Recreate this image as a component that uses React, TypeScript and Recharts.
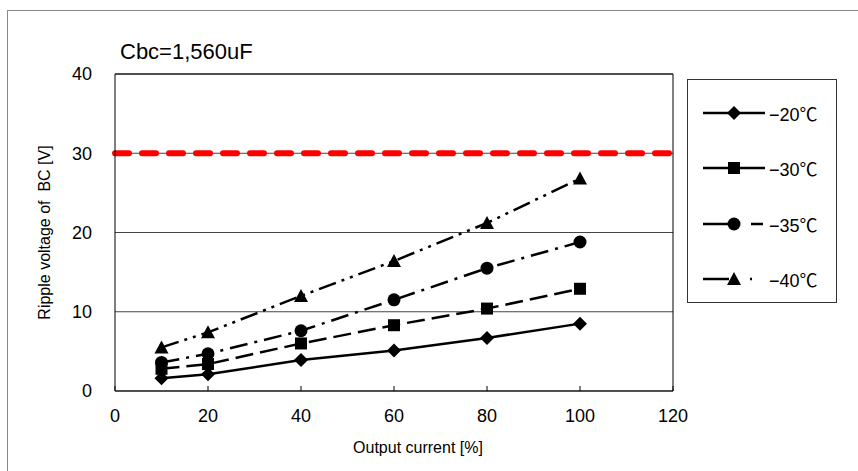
import React from "react"
import { LineChart, Line, XAxis, YAxis, CartesianGrid, ReferenceLine } from "recharts"

// output current [%]
const currents = [10, 20, 40, 60, 80, 100]
// ripple voltage [V] per temperature
const minus20 = [1.6, 2.1, 3.9, 5.1, 6.7, 8.5]
const minus30 = [2.8, 3.4, 6.0, 8.3, 10.4, 12.9]
const minus35 = [3.6, 4.7, 7.6, 11.5, 15.5, 18.8]
const minus40 = [5.5, 7.4, 12.0, 16.4, 21.2, 26.8]

const xTicks = [0, 20, 40, 60, 80, 100, 120]
const yTicks = [0, 10, 20, 30, 40]
const limitVoltage = 30
const seriesNames = ["−20℃", "−30℃", "−35℃", "−40℃"]

const data = currents.map((x, i) => ({
  x,
  m20: minus20[i],
  m30: minus30[i],
  m35: minus35[i],
  m40: minus40[i],
}))

type Shape = "diamond" | "square" | "circle" | "triangle"

function Marker({ shape, cx, cy }: { shape: Shape; cx: number; cy: number }) {
  if (shape === "diamond")
    return <path d={`M${cx},${cy - 7} L${cx + 7},${cy} L${cx},${cy + 7} L${cx - 7},${cy} Z`} fill="#000" />
  if (shape === "square") return <rect x={cx - 6} y={cy - 6} width={12} height={12} fill="#000" />
  if (shape === "circle") return <circle cx={cx} cy={cy} r={6.5} fill="#000" />
  return <path d={`M${cx},${cy - 7} L${cx + 7},${cy + 6} L${cx - 7},${cy + 6} Z`} fill="#000" />
}

const makeDot = (shape: Shape) => (props: any) => (
  <g key={`${shape}-${props.index}`}>
    <Marker shape={shape} cx={props.cx} cy={props.cy} />
  </g>
)

const series = [
  { key: "m20", shape: "diamond" as Shape, dash: undefined, legendDash: undefined },
  { key: "m30", shape: "square" as Shape, dash: "18 7", legendDash: undefined },
  { key: "m35", shape: "circle" as Shape, dash: "18 7 3 7", legendDash: "30 18 12" },
  { key: "m40", shape: "triangle" as Shape, dash: "18 6 3 6 3 6", legendDash: "26 21 2 20" },
]

export default function App() {
  return (
    <div
      style={{
        position: "absolute",
        left: 0,
        top: 0,
        width: 858,
        height: 471,
        overflow: "hidden",
        background: "#fff",
        fontFamily: "'Liberation Sans', Arial, 'Noto Sans CJK JP', sans-serif",
        color: "#000",
      }}
    >
      <div
        style={{
          position: "absolute",
          left: 7,
          top: 10,
          width: 900,
          height: 500,
          border: "1px solid #888",
        }}
      />
      <div style={{ position: "absolute", left: 0, top: 0 }}>
        <LineChart width={858} height={471} data={data} margin={{ top: 74, right: 185, bottom: 50, left: 30 }}>
          <CartesianGrid vertical={false} stroke="#444" strokeWidth={1} />
          <XAxis
            dataKey="x"
            type="number"
            domain={[0, 120]}
            ticks={xTicks}
            height={30}
            stroke="#000"
            tickSize={-5}
            tickMargin={23}
            tick={{ fill: "#000", fontSize: 18 }}
            label={{ value: "Output current [%]", position: "bottom", offset: 21, dx: 24, fill: "#000", fontSize: 16 }}
          />
          <YAxis
            type="number"
            domain={[0, 40]}
            ticks={yTicks}
            width={85}
            stroke="#000"
            tickLine={false}
            tickSize={0}
            tickMargin={23}
            tick={{ fill: "#000", fontSize: 18 }}
            label={{
              value: "Ripple voltage of\u00a0 BC [V]",
              angle: -90,
              position: "insideLeft",
              offset: 14,
              fill: "#000",
              fontSize: 16,
              style: { textAnchor: "middle" },
            }}
          />
          <ReferenceLine y={40} stroke="#000" />
          <ReferenceLine x={120} stroke="#000" />
          <ReferenceLine
            y={limitVoltage}
            stroke="#ff0000"
            strokeWidth={6}
            strokeDasharray="14 13"
            strokeLinecap="round"
          />
          {series.map((s) => (
            <Line
              key={s.key}
              dataKey={s.key}
              stroke="#000"
              strokeWidth={2.5}
              strokeDasharray={s.dash}
              dot={makeDot(s.shape)}
              activeDot={false}
              isAnimationActive={false}
            />
          ))}
        </LineChart>
      </div>
      <div style={{ position: "absolute", left: 120, top: 41, fontSize: 22, lineHeight: "22px" }}>Cbc=1,560uF</div>
      <div
        style={{
          position: "absolute",
          left: 687,
          top: 79,
          width: 150,
          height: 224,
          border: "1px solid #333",
          boxSizing: "border-box",
          background: "#fff",
        }}
      >
        {series.map((s, i) => (
          <div
            key={s.key}
            style={{
              position: "absolute",
              left: 15,
              top: 22 + i * 55.3,
              height: 22,
              display: "flex",
              alignItems: "center",
            }}
          >
            <svg width={62} height={22}>
              <line x1={0} y1={11} x2={62} y2={11} stroke="#000" strokeWidth={2.5} strokeDasharray={s.legendDash} />
              <Marker shape={s.shape} cx={31} cy={11} />
            </svg>
            <span style={{ marginLeft: 4, fontSize: 18 }}>{seriesNames[i]}</span>
          </div>
        ))}
      </div>
    </div>
  )
}
